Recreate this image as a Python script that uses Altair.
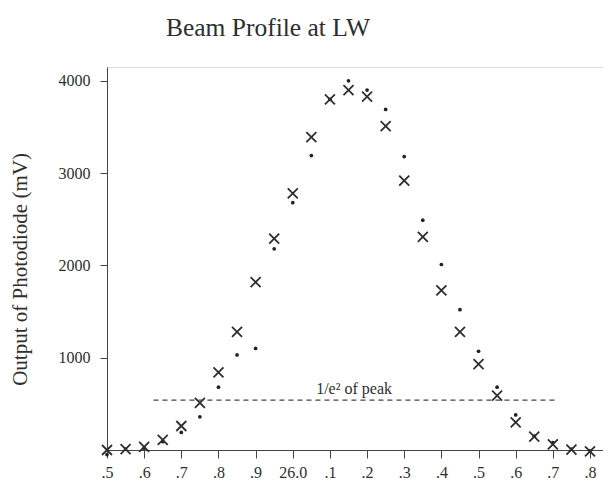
import altair as alt
import pandas as pd

# Mirror position (cm-ish readout) and photodiode outputs (mV)
positions = [25.5, 25.55, 25.6, 25.65, 25.7, 25.75, 25.8, 25.85, 25.9, 25.95,
             26.0, 26.05, 26.1, 26.15, 26.2, 26.25, 26.3, 26.35, 26.4, 26.45,
             26.5, 26.55, 26.6, 26.65, 26.7, 26.75, 26.8]
cross_mv = [0, 10, 35, 110, 260, 510, 840, 1280, 1820, 2290,
            2780, 3390, 3800, 3900, 3830, 3510, 2920, 2310, 1730, 1280,
            930, 590, 300, 145, 60, 5, -15]
dot_mv = [-50, 10, 20, 90, 190, 360, 680, 1030, 1100, 2180,
          2680, 3190, 3800, 4000, 3900, 3690, 3180, 2490, 2010, 1520,
          1070, 680, 380, 150, 80, 10, -10]

x_tick_values = [25.5, 25.6, 25.7, 25.8, 25.9, 26.0, 26.1, 26.2, 26.3, 26.4,
                 26.5, 26.6, 26.7, 26.8]
x_tick_labels = [".5", ".6", ".7", ".8", ".9", "26.0", ".1", ".2", ".3", ".4",
                 ".5", ".6", ".7", ".8"]
y_tick_values = [1000, 2000, 3000, 4000]

threshold_mv = 540
threshold_start = 25.625
threshold_end = 26.71
threshold_label = "1/e\u00b2 of peak"
threshold_label_x = 26.165

SERIF = "Liberation Serif"
INK = "#2e2e2e"

df_cross = pd.DataFrame({"x": positions, "y": cross_mv})
df_dot = pd.DataFrame({"x": positions, "y": dot_mv})
df_rule = pd.DataFrame({"x": [threshold_start], "x2": [threshold_end], "y": [threshold_mv]})
df_text = pd.DataFrame({"x": [threshold_label_x], "y": [threshold_mv], "t": [threshold_label]})

label_array = "[" + ",".join("'%s'" % s for s in x_tick_labels) + "]"
label_expr = label_array + "[round((datum.value - 25.5) * 10)]"

xscale = alt.Scale(domain=[25.5, 26.835], nice=False, zero=False)
yscale = alt.Scale(domain=[0, 4150], nice=False)

xaxis = alt.Axis(values=x_tick_values, labelExpr=label_expr, title=None, grid=False,
                 labelFont=SERIF, labelFontSize=16, labelColor=INK, tickSize=8,
                 tickColor="#444", domainColor="#444", labelPadding=6, labelFlush=False,
                 labelOverlap=False, labelBound=False)
yaxis = alt.Axis(values=y_tick_values, format="d", grid=False, title="Output of Photodiode  (mV)",
                 labelFont=SERIF, labelFontSize=16, labelColor=INK, tickSize=7,
                 tickColor="#444", domainColor="#444", labelPadding=10,
                 titleFont=SERIF, titleFontSize=21, titleFontWeight="normal", titleColor=INK,
                 titleAngle=270, titleAlign="center", titleBaseline="middle",
                 titleX=-87, titleY=202)

X = alt.X("x:Q", scale=xscale, axis=xaxis)
Y = alt.Y("y:Q", scale=yscale, axis=yaxis)

dots = alt.Chart(df_dot).mark_circle(size=14, color="#222", opacity=1).encode(x=X, y=Y)
crosses = alt.Chart(df_cross).mark_point(
    shape="M-1,-1L1,1M1,-1L-1,1", filled=False, size=100, strokeWidth=1.8,
    color=INK, opacity=1).encode(x=X, y=Y)
rule = alt.Chart(df_rule).mark_rule(strokeDash=[5, 4], color="#444", strokeWidth=1.2).encode(
    x=X, x2="x2:Q", y=Y)
text = alt.Chart(df_text).mark_text(font=SERIF, fontSize=16, color=INK, align="center",
                                    baseline="alphabetic", dy=-6).encode(x=X, y=Y, text="t:N")

chart = alt.layer(dots, crosses, rule, text).properties(
    width=496, height=383,
    title=alt.TitleParams("Beam Profile at LW", font=SERIF, fontSize=25.5, fontWeight="normal",
                          color=INK, anchor="middle", dx=-87, offset=6, baseline="alphabetic"),
    autosize=alt.AutoSizeParams(type="none"),
    padding={"left": 99, "top": 59, "right": 0, "bottom": 30},
).configure_view(stroke=None).configure(background="white").configure_axisX(labelOverlap=False)

chart.save("out.html", embed_options={"renderer": "svg", "actions": False})
